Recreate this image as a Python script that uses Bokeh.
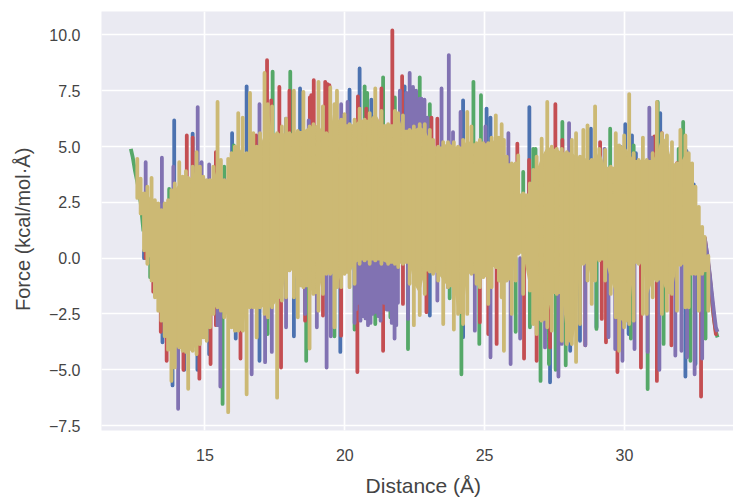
from bokeh.embed import file_html
from bokeh.models import FixedTicker
from bokeh.plotting import figure
from bokeh.resources import INLINE

x_ticks = [15, 20, 25, 30]
y_ticks = [-7.5, -5.0, -2.5, 0.0, 2.5, 5.0, 7.5, 10.0]
y_labels = ["\u22127.5", "\u22125.0", "\u22122.5", "0.0", "2.5", "5.0", "7.5", "10.0"]

gold_x = [12.58,12.70,12.82,12.94,13.09,13.21,13.33,13.44,13.56,13.68,13.80,13.92,14.08,14.20,14.32,14.40,14.56,14.70,14.82,14.94,15.06,15.18,15.30,15.45,15.57,15.69,15.83,15.95,16.07,16.19,16.35,16.49,16.61,16.73,16.85,16.97,17.13,17.25,17.40,17.58,17.75,17.90,18.02,18.18,18.32,18.52,18.74,18.88,19.06,19.22,19.34,19.48,19.63,19.72,19.87,19.99,20.17,20.35,20.53,20.71,20.89,21.09,21.31,21.55,21.79,21.91,22.08,22.32,22.47,22.68,22.86,23.04,23.16,23.34,23.52,23.69,23.90,24.05,24.23,24.38,24.53,24.71,24.83,24.95,25.13,25.25,25.40,25.51,25.61,25.69,25.79,25.97,26.11,26.20,26.38,26.62,26.74,26.86,27.04,27.24,27.40,27.58,27.76,27.94,28.12,28.27,28.41,28.53,28.68,28.83,28.95,29.10,29.31,29.51,29.69,29.81,29.99,30.17,30.33,30.51,30.66,30.80,31.01,31.16,31.34,31.52,31.70,31.88,32.00,32.18,32.30,32.42,32.54,32.66,32.78,32.87,33.00]
gold_hi = [4.45,3.56,2.9,3.2,3.6,2.6,2.45,2.15,2.45,2.6,3.05,3.35,4.3,3.65,3.9,3.6,4.1,4.75,4.1,3.65,3.5,3.5,4.1,7.0,4.4,3.5,4.45,4.7,5.0,6.5,6.3,4.7,7.4,5.6,5.0,5.6,8.3,6.9,6.8,5.6,5.9,6.25,5.6,7.5,5.7,7.45,5.9,6.0,7.9,6.8,5.6,7.65,6.9,7.5,6.2,6.45,6.0,6.2,6.7,6.2,6.5,7.6,6.6,6.0,6.6,6.5,6.4,5.75,5.9,6.0,6.0,5.75,5.3,5.0,5.2,5.2,5.2,5.0,5.3,6.55,5.9,5.15,5.3,5.15,5.15,5.4,6.4,5.4,6.0,5.3,4.55,4.25,4.25,4.6,2.9,3.35,3.95,4.55,5.35,7.0,5.0,4.9,4.9,4.75,5.3,5.6,4.55,5.75,5.95,4.4,6.8,4.9,4.85,4.1,5.6,5.05,5.5,7.35,4.7,4.4,5.4,4.4,4.7,7.0,5.6,5.5,5.2,4.25,5.75,5.5,4.7,4.25,3.2,2.3,1.4,0.95,0.1]
gold_lo = [2.7,2.0,0.35,-0.25,-1.0,-1.75,-2.35,-2.8,-3.5,-4.1,-5.5,-4.9,-4.0,-4.15,-4.2,-5.85,-4.15,-4.3,-3.85,-3.55,-3.7,-3.1,-2.5,-2.2,-2.35,-2.65,-6.9,-3.1,-3.25,-3.25,-3.25,-6.1,-2.2,-2.2,-3.55,-2.2,-2.5,-2.65,-2.2,-6.25,-1.9,-1.75,-0.55,-1.75,-2.65,-1.3,-4.05,-1.6,-2.35,-1.6,-0.7,-0.7,-3.1,-1.3,-1.3,-0.7,-1.3,-1.15,-0.25,-0.1,-0.25,-0.1,-0.25,-0.25,-0.25,-0.4,-0.25,-1.15,-3.0,-2.55,-1.6,-0.6,-0.7,-1.0,-2.95,-1.3,-3.2,-2.5,-2.95,-2.5,-0.7,-1.15,-1.3,-0.85,-2.05,-1.3,-0.4,-1.0,-1.75,-4.15,-1.0,-2.5,-1.0,0.2,-1.6,-1.45,-2.95,-3.4,-2.8,-3.1,-3.25,-1.6,-3.7,-3.85,-3.85,-4.65,-2.95,-0.25,-1.0,-2.05,-1.0,-0.1,-1.0,-1.6,-2.65,-4.15,-3.1,-2.95,-2.8,-0.25,-2.5,-2.5,-1.75,-1.0,-2.5,-2.35,-1.6,-2.35,-0.3,-2.2,-2.2,-0.7,-0.7,-2.35,-0.7,-0.55,-2.35]

blue_peak_x = [13.90,14.56,15.97,16.49,17.90,18.40,20.17,20.53,20.95,22.14,24.23,25.07,25.21,26.60,28.80,29.85,30.03,30.27,30.41,31.28,32.22,32.48]
blue_peak_y = [6.17,5.58,5.6,7.7,6.25,7.6,7.55,8.5,7.1,7.7,7.07,6.7,6.3,6.77,5.8,5.0,6.0,5.5,4.7,6.5,4.8,3.3]
blue_dip_x = [12.82,13.48,13.84,14.26,14.73,15.15,16.10,16.95,18.18,19.84,23.04,24.23,27.34,28.06,28.41,29.00,30.15,32.18,32.54]
blue_dip_y = [0.35,-3.77,-5.7,-5.0,-5.0,-4.3,-3.6,-4.6,-3.5,-4.2,-2.57,-3.54,-5.56,-4.15,-3.7,-3.1,-3.4,-5.3,-4.74]

green_start_x = [12.35,12.42,12.50,12.60,12.70,12.80]
green_start_y = [4.9,4.5,3.9,3.3,2.5,1.2]
green_peak_x = [13.72,15.69,16.03,17.42,18.05,20.71,20.80,21.37,21.79,22.68,23.04,24.60,24.87,26.38,26.74,26.82,27.78,29.49,30.33,31.19,31.94,32.10]
green_peak_y = [3.1,4.1,5.05,8.35,8.35,7.7,7.4,8.1,7.2,8.1,6.9,7.9,7.3,3.86,4.9,4.9,6.1,5.8,5.05,7.0,4.9,6.1]
green_dip_x = [13.04,15.63,17.24,18.62,19.63,20.35,21.09,21.63,22.26,23.75,24.17,24.81,26.11,26.62,27.00,27.30,27.54,27.90,29.00,30.23,30.83,31.40,32.36,32.90]
green_dip_y = [-0.85,-6.53,-3.4,-4.6,-3.5,-3.2,-2.95,-2.65,-4.07,-1.8,-5.2,-3.84,-3.3,-3.1,-5.5,-4.74,-5.0,-4.8,-3.17,-3.6,-5.86,-3.84,-4.6,-3.6]

red_peak_x = [13.36,14.35,14.56,15.39,16.83,17.22,17.37,17.66,18.02,18.75,18.80,18.89,19.30,19.38,19.45,20.47,20.77,21.31,21.70,22.05,23.10,23.31,23.99,24.89,26.02,26.17,26.59,27.53,27.78,29.13,30.33,30.78,31.07,31.34,31.88]
red_peak_y = [2.4,5.5,5.4,4.75,5.5,8.87,7.07,7.67,7.5,7.2,7.3,7.97,7.9,7.8,7.75,7.25,6.7,7.6,10.2,8.15,6.3,6.25,4.8,4.9,3.93,5.13,4.4,6.9,5.3,5.2,4.5,4.3,5.46,5.6,4.26]
red_dip_x = [12.88,13.15,13.42,13.63,14.23,14.80,15.20,15.39,16.27,17.72,18.58,19.22,19.87,20.45,21.37,22.08,22.92,24.83,25.13,25.43,26.41,26.86,27.34,28.60,29.19,29.34,29.75,30.59,31.16,31.68,32.74]
red_dip_y = [0.5,-1.5,-3.3,-4.6,-5.0,-5.4,-4.74,-3.0,-4.5,-4.9,-2.8,-2.57,-3.47,-5.1,-4.15,-2.05,-2.42,-2.87,-3.4,-3.84,-4.5,-4.6,-4.0,-3.9,-2.72,-3.77,-5.1,-4.9,-5.5,-3.9,-6.2]

purple_peak_x = [12.88,13.46,13.87,14.74,14.88,15.15,15.71,16.95,18.71,19.22,19.87,20.10,21.97,22.20,22.32,22.44,22.55,22.68,22.74,22.85,22.95,23.46,23.72,23.87,24.14,25.03,25.85,28.02,29.29,30.89,30.98]
purple_peak_y = [4.3,4.5,4.1,6.77,4.3,4.2,3.5,6.9,6.17,6.77,6.9,7.0,7.5,7.4,8.3,7.67,7.5,7.15,7.15,7.1,6.3,7.6,9.1,5.65,6.55,5.9,5.6,6.05,4.9,6.74,5.4]
purple_dip_x = [14.04,15.45,15.55,16.67,17.15,17.39,17.90,18.58,19.00,19.35,19.50,20.35,20.40,20.47,20.56,20.65,20.74,20.83,20.92,21.00,21.10,21.20,21.28,21.40,21.50,21.60,21.68,21.78,21.84,21.90,22.26,23.31,23.69,24.65,25.21,25.93,26.27,27.16,27.64,27.76,28.60,29.43,29.67,29.93,30.36,30.83,31.25,31.82,32.04,32.24,32.51,32.78]
purple_dip_y = [-6.75,-3.0,-5.75,-5.2,-4.66,-4.2,-3.1,-2.5,-3.1,-4.9,-3.5,-2.9,-2.3,-2.0,-2.8,-2.6,-2.7,-3.0,-2.9,-2.5,-2.4,-2.6,-2.8,-2.0,-2.3,-2.3,-2.9,-3.6,-3.0,-2.0,-2.72,-1.9,-1.3,-3.25,-4.44,-4.74,-3.6,-4.0,-5.3,-3.84,-3.9,-3.54,-4.07,-4.6,-4.07,-4.2,-5.0,-4.36,-4.15,-4.44,-5.2,-4.5]

tail_x = [32.87,32.96,33.05,33.12,33.20,33.27,33.33]
purple_tail_y = [0.9,0.2,-0.7,-1.5,-2.4,-3.1,-3.3]
red_tail_y = [0.95,0.1,-0.8,-1.7,-2.7,-3.4,-3.4]
green_tail_y = [0.8,0.0,-0.9,-1.8,-2.7,-3.3,-3.55]

BLUE, GREEN, RED, PURPLE, GOLD = "#4C72B0", "#55A868", "#C44E52", "#8172B2", "#CCB974"
LW = 3.8
PEAK_BASE, DIP_BASE = 2.0, 0.0

p = figure(width=733, height=499, x_range=(11.3, 33.9), y_range=(-7.72, 11.05),
           output_backend="svg", toolbar_location=None, min_border_left=101,
           min_border_right=0, min_border_top=11, min_border_bottom=69,
           background_fill_color="#EAEAF2", border_fill_color="white", outline_line_color=None)


def draw(xs, ys, bases, color):
    px, py = [], []
    for a, b, c in zip(xs, ys, bases):
        px += [a, a, float("nan")]
        py += [b, c, float("nan")]
    p.line(px, py, line_color=color, line_width=LW, line_cap="round", line_join="round")


p.line(tail_x, green_tail_y, line_color=GREEN, line_width=LW, line_join="round")
p.line(green_start_x, green_start_y, line_color=GREEN, line_width=LW, line_join="round")
for peak_x, peak_y, dip_x, dip_y, col in [
    (blue_peak_x, blue_peak_y, blue_dip_x, blue_dip_y, BLUE),
    (green_peak_x, green_peak_y, green_dip_x, green_dip_y, GREEN),
    (red_peak_x, red_peak_y, red_dip_x, red_dip_y, RED),
    (purple_peak_x, purple_peak_y, purple_dip_x, purple_dip_y, PURPLE),
]:
    draw(peak_x, peak_y, [PEAK_BASE] * len(peak_x), col)
    draw(dip_x, dip_y, [DIP_BASE] * len(dip_x), col)
p.line(tail_x, red_tail_y, line_color=RED, line_width=LW, line_join="round")
p.line(tail_x, purple_tail_y, line_color=PURPLE, line_width=LW, line_join="round")

# solid body of the gold trace: what its neighbouring strokes all cover
n = len(gold_x)
core_top = [min(gold_hi[max(i - 1, 0):i + 2]) for i in range(n)]
core_bot = [max(gold_lo[max(i - 1, 0):i + 2]) for i in range(n)]
p.varea(x=gold_x, y1=core_bot, y2=core_top, fill_color=GOLD)
draw(gold_x, gold_hi, gold_lo, GOLD)

FONT = "Liberation Sans"
TEXT = "#444444"
for ax in (p.xaxis[0], p.yaxis[0]):
    ax.axis_line_color = None
    ax.major_tick_line_color = None
    ax.minor_tick_line_color = None
    ax.major_label_text_font = FONT
    ax.major_label_text_font_size = "16px"
    ax.major_label_text_color = TEXT
    ax.axis_label_text_font = FONT
    ax.axis_label_text_font_style = "normal"
    ax.axis_label_text_color = TEXT

p.xaxis[0].ticker = FixedTicker(ticks=x_ticks)
p.yaxis[0].ticker = FixedTicker(ticks=y_ticks)
p.yaxis[0].major_label_overrides = dict(zip(y_ticks, y_labels))
p.xaxis[0].major_label_standoff = 12
p.yaxis[0].major_label_standoff = 15
# no-break spaces move the centred titles to where the reference has them
p.xaxis[0].axis_label = "\u00a0\u00a0Distance (\u00c5)"
p.yaxis[0].axis_label = "Force (kcal/mol\u00b7\u00c5)\u00a0\u00a0\u00a0"
p.xaxis[0].axis_label_text_font_size = "21px"
p.yaxis[0].axis_label_text_font_size = "20px"
p.xaxis[0].axis_label_standoff = 10
p.yaxis[0].axis_label_standoff = 12

for g in (p.xgrid[0], p.ygrid[0]):
    g.grid_line_color = "white"
    g.grid_line_width = 1.7
p.xgrid[0].ticker = FixedTicker(ticks=x_ticks)
p.ygrid[0].ticker = FixedTicker(ticks=y_ticks)

open("out.html", "w").write(file_html(p, INLINE))
